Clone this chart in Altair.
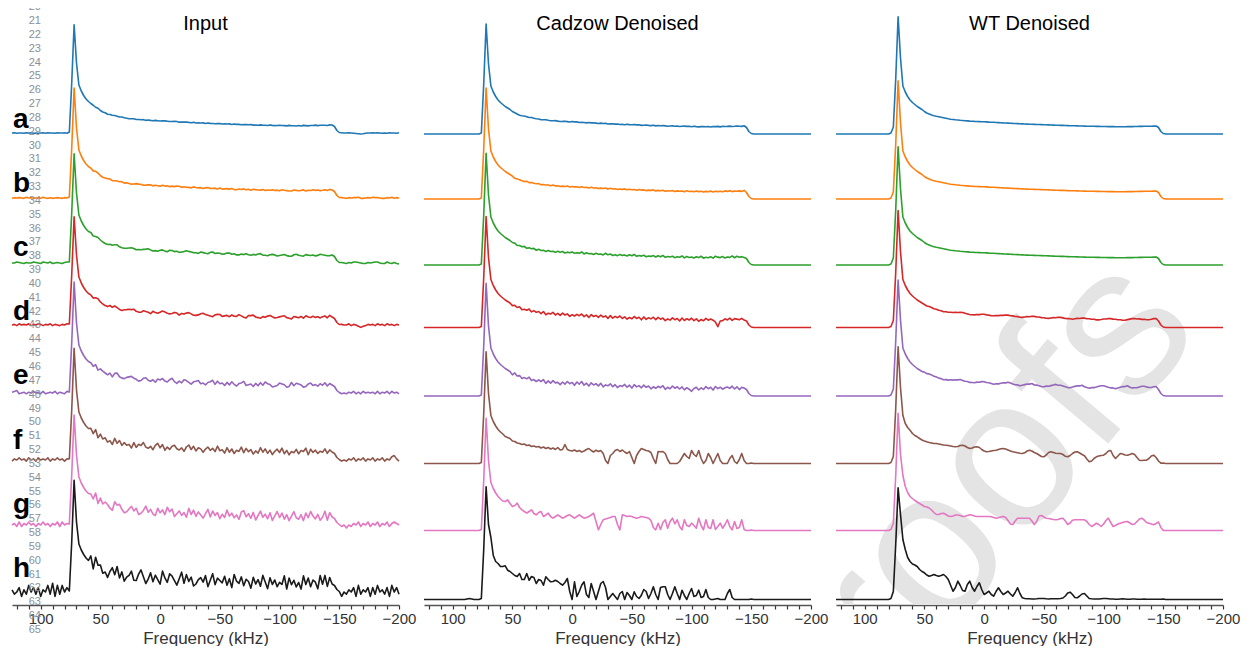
import altair as alt
import pandas as pd

FONT = "Liberation Sans"

# ---------------- data ----------------
FREQ = list(range(124, -201, -2))          # kHz sampling grid (163 points)
N = len(FREQ)
LETTERS = ["a", "b", "c", "d", "e", "f", "g", "h"]
COLORS = ["#1f77b4", "#ff7f0e", "#2ca02c", "#d62728", "#9467bd",
          "#8c564b", "#e377c2", "#1a1a1a"]
PANELS = ["Input", "Cadzow Denoised", "WT Denoised"]
TICKS = list(range(-200, 121, 10))

BASE = ([0] * 24 +
        [1, 50, 108, 70, 48, 42, 37.5, 34, 31.5, 29.5, 27.5, 26, 24.5,
         22.5, 21, 20, 19, 18.3, 17.7, 17.2, 16.7, 16.2, 15.7, 15.2, 14.8, 14.5,
         14.2, 14, 13.7, 13.5, 13.3, 13.1, 12.9, 12.8, 12.6, 12.5, 12.4, 12.3, 12.2,
         12.1, 11.9, 11.8, 11.7, 11.5, 11.4, 11.3, 11.1, 11, 10.9, 10.8, 10.6, 10.5,
         10.4, 10.2, 10.1, 10,
         9.9, 9.8, 9.7, 9.6, 9.5, 9.5, 9.4, 9.3, 9.2, 9.1, 9, 8.9, 8.8, 8.7, 8.6,
         8.6, 8.5, 8.4, 8.3, 8.3, 8.2, 8.1, 8, 8, 7.9, 7.8, 7.8, 7.7,
         7.7, 7.6, 7.6, 7.5, 7.5, 7.5, 7.4, 7.4, 7.4, 7.3, 7.3, 7.3, 7.3, 7.3,
         7.4, 7.4, 7.4, 7.5, 7.5, 7.6, 7.6, 7.7, 7.7, 7.8, 7.8, 7.9, 8,
         6.5, 2.5, 0.5] +
        [0] * 25)

# residual noise strings: digit d -> (d - 4) * unit, starting at the given kHz
IN_A = "4534435453 4345354435 4453444444 4444535445 3545435443 4534453543 5434543455 3445435344 5354434534 4535443454 5343544354 3454435443 5354344534 4435444454 4543210134 4545434354 435"
IN_B = "3545436453 4536435345 4354444444 4445365434 5634546354 3465534563 5436453546 6354436545 3564453634 5463354645 3654463546 4536543365 4563546453 4536444454 3545563345 4655433546 354"
IN_C = "4465435446 5436546345 4356444444 4446356543 3546743345 6534456753 4356436645 3457654436 5436745534 6645335464 3546744356 5345643367 5436545346 5433444454 3546654335 4566433643 532"
IN_D = "4536454635 4653546354 3546444444 4445367543 3647532456 6743365426 4357643465 2546753346 7543256634 5364475326 6743254675 3456743265 4637546453 5637444454 4635420235 4536453645 354"
IN_E = "5673453546 4536345463 5436444444 4445372654 3627843356 7542367435 2657436842 5376425673 4256837452 6374256834 5263748652 3476523847 6523674536 4736444434 3546353645 4536354636 453"
IN_F = "3546453645 3645463546 4535444444 4446382746 3528473645 2736584352 6847253674 3526847365 2574638452 7362548374 6253847362 5748362547 3658274635 4736444434 3546354635 4635463547 853"
IN_G = "4536354645 3546453546 3645444444 4445382746 5328674235 7462358463 2746385724 6352847364 2583746253 8463527846 3725846372 5847362584 3627485362 4827444434 2435463546 3546354635 654"
IN_H = "5346253746 3625473827 3746444444 4447285634 2574836245 7336852473 6428537642 5837462356 4725836547 3628547365 2746385274 6354827463 5284736528 4837444424 3546273546 2637453627 463"

CZ_A = "4543454354 4534543454 3454354534 4354543545 3454534354 4545345435 3545434545 3454535434 5453545354 45345435"
CZ_B = "5345436354 4635453645 3546354536 4536453546 3645354635 4536453546 3546354635 4536453645 3546354536 46354536"
CZ_C = "4635463546 3645364536 4635463547 3645364537 4635364536 4735463546 3647354635 4736453647 3546375463 54736453"
CZ_D = "3647354736 4637254736 3746253647 3627463746 2736473625 3746273647 3746253746 2736473625 3746463736 47365463"
CZ_E = "2746354735 3647263745 2637462748 3627463725 4736254736 2746374625 3647253746 3625304625 3746274635 64736254"

WT_D = "5566554434 4556677654 4455665544 5566776655 4456677665 5445667765 5545667766 5544566776 6554456776 65544566"
WT_E = "6677665545 5667787665 5566776654 5567787655 4567786654 4556787765 4456778654 5567887655 4567786555 67765566"

# absolute heights (start kHz, step -2 kHz)
CZ_F_PLATEAU = [27, 26, 25, 22.5, 22, 20.5, 20, 19, 19.5, 18,
                18.5, 17, 17.5, 16.5, 17, 15.5, 16.5, 15, 16, 14.5,
                15.5, 14, 16, 13.5, 14, 19, 14, 13, 12.5, 13.5,
                12, 13, 11.5, 12.5, 14, 15, 13, 11.5, 13.3, 12,
                13, 10, 3, 0, 8, 10, 13, 14, 12, 13.5,
                11.5, 10, 12, 6, 0, 8, 12, 15, 14, 13,
                12.5, 11, 5, 0, 12, 11.7, 12, 10, 4, 0,
                0, 0, 0, 2, 6, 10, 7, 5, 13, 9,
                7, 13, 5, 0, 3, 10, 6, 0, 5, 10,
                3, 0, 0, 0, 5, 8, 2, 0, 4, 10,
                3, 0, 0]
CZ_G_PLATEAU = [29, 30.7, 27, 24, 25, 27.3, 23, 20.7, 19, 17.3,
                19, 20.7, 17, 15.7, 18, 19, 14, 15.5, 17.3, 14,
                12.3, 14, 15.7, 14, 12.3, 13.5, 15, 15.7, 14, 12.3,
                14, 15.7, 14, 12.3, 13, 14, 15.5, 17.3, 9, 0.7,
                6, 10.7, 11.5, 12.3, 13, 14, 14, 6, 0.7, 15.7,
                15, 14, 14.5, 14, 13, 12.3, 13, 14, 13.5, 13,
                12.3, 10, 3, 0.7, 7.3, 1, 8, 10.7, 2.3, 9,
                12.3, 6.7, 10.7, 4, 0.7, 10.7, 5, 4, 7.3, 5,
                2.3, 12.3, 5, 0.7, 10.7, 3, 2, 10.7, 1, 4,
                7.3, 2.3, 6, 10.7, 4, 0.7, 9, 2, 3, 10.7,
                1, 0, 0]
CZ_H_PLATEAU = [38, 36, 33, 33, 33.7, 29.3, 28, 26, 24, 23,
                26, 20, 20, 26, 19.3, 23, 22, 16, 20, 19,
                14.3, 22.7, 20, 17.7, 18, 19.3, 18, 16, 14.3, 17,
                21, 8, 0, 17.7, 3, 8, 14.3, 17.7, 5, 2,
                16, 8, 0, 8, 16, 18, 12, 0, 3, 6,
                3, 0, 6, 8, 0, 7, 4, 0, 7.7, 3,
                1, 4.3, 10, 8, 1, 6, 12.7, 5, 0, 12,
                12.7, 12.7, 5, 0, 6, 12.7, 6, 0, 9.3, 4,
                0, 6, 11, 3, 4, 9.3, 2, 3, 10, 2,
                0, 0, 0.5, 1, 0, 0, 0, 6, 10, 2,
                0, 0, 0, 0, 0, 0, 0]
WT_F_PLATEAU = [48, 40, 36, 33.3, 30, 28, 26.7, 25, 23.5, 22.5,
                21.7, 21, 20.5, 20, 20, 19.5, 19, 18.5, 18.3, 18,
                17.5, 17, 16.7, 17, 18, 18.3, 17.5, 16, 15, 15.5,
                16.5, 16.7, 16, 14, 12.5, 11.7, 12, 12.5, 13, 13.3,
                14, 14.7, 15, 14.5, 13.5, 12.5, 11.7, 11.2, 10.7, 10.2,
                10, 10.7, 12.5, 13.3, 12.5, 11, 10, 8.5, 7, 6.7,
                8.5, 11, 11.7, 11, 10.3, 10, 10, 9, 7.2, 6.7,
                8, 10, 11.5, 11.7, 10.5, 9, 7.8, 4.5, 1.7, 2.5,
                5, 6.7, 7.5, 8, 8.3, 10, 12.5, 13, 8, 5,
                7.5, 10, 9.5, 8.5, 8.3, 9, 10, 9, 6, 3.3,
                3, 3.2, 3.3, 5, 7.5, 8.3, 6, 2.5, 0.3]
WT_G_PLATEAU = [55, 44, 38, 34, 32, 30, 28.5, 27, 25.5, 24,
                23.5, 22.5, 20.5, 18, 16, 16, 17, 17.3, 16, 14.5,
                14, 14.5, 15.5, 15.5, 15, 14, 14.2, 15, 15.7, 15.3,
                14.5, 14, 14, 14, 14, 14, 14, 13.7, 13, 12.3,
                12.7, 13.5, 14, 13, 10, 6.5, 6, 9.5, 12.3, 12.3,
                12.3, 12.3, 12.3, 12.3, 9.5, 6, 9, 14.5, 15, 13.5,
                12.3, 12, 11.5, 11, 10.7, 11, 12, 12.3, 9.5, 6,
                7.5, 10.3, 10.7, 10.7, 10.7, 10.7, 10.7, 9, 6, 4,
                5.5, 7.3, 6, 4, 6.5, 10, 12.3, 8, 4, 5,
                6.5, 7.3, 8, 8.7, 9, 7.5, 6, 6.5, 9, 11.5,
                12.3, 10.5, 8, 7.3, 6.5, 5.7, 7, 8.5, 3, 0]
WT_H_MAIN = [1, 8, 55, 111.7, 85, 60, 50, 42, 38, 35.5,
             34.5, 33, 30, 28, 26.7, 24.5, 23.3, 24, 25, 24,
             23.3, 24, 25, 23, 20, 14, 8.3, 12, 18.3, 14,
             9, 8.3, 15, 18.3, 12, 8.3, 13, 16.7, 10, 5,
             6.5, 8.3, 5, 3.3, 8, 11.7, 8, 5, 6.5, 8.3,
             5.5, 3.3, 7, 11.7, 6, 1.7, 1, 0.7, 0.7, 0.5,
             0.5, 0.7, 1, 1, 1, 0.7, 0.5, 0.7, 0.8, 0.7,
             0.7, 1, 1.5, 3.5, 6.5, 7.3, 5, 2, 1.7, 3.5,
             5.5, 6, 3.5, 1, 0.7, 0.5, 0.5, 0.5, 0.8, 1]
WT_H_TAIL = [1, 0.8, 0.5, 0.5, 0.3, 0.3, 0.5, 0.7, 0.5, 0.3, 0.3, 0.5,
             0.5, 0.3, 0.3, 0.3, 0.5, 0.3, 0.3, 0.2, 0.2, 0.3, 0.3, 0.2]

SPECS = {
    "Input": [
        {"noise": (124, 0.25, IN_A), "set": {72: [108.3]}},
        {"noise": (124, 0.35, IN_B), "set": {72: [110]}},
        {"noise": (124, 0.5, IN_C), "set": {72: [109.3]}},
        {"noise": (124, 0.6, IN_D), "set": {72: [108.3]}},
        {"noise": (124, 0.8, IN_E), "set": {72: [111]}},
        {"noise": (124, 1.1, IN_F), "set": {72: [111.7]}},
        {"noise": (124, 1.5, IN_G), "set": {72: [110]}},
        {"noise": (124, 2.2, IN_H), "set": {72: [111.7]}},
    ],
    "Cadzow Denoised": [
        {"noise": (50, 0.25, CZ_A), "set": {72: [110]}},
        {"noise": (50, 0.3, CZ_B), "set": {72: [111]}},
        {"noise": (50, 0.45, CZ_C), "set": {72: [111.7]}},
        {"noise": (50, 0.6, CZ_D), "set": {72: [111], -120: [5.4, 0.8, 6.5]}},
        {"noise": (50, 0.7, CZ_E), "set": {72: [112.7]}},
        {"set": {72: [111.7], 56: CZ_F_PLATEAU}},
        {"set": {72: [112.3], 56: CZ_G_PLATEAU}},
        {"set": {88: [0.5, 1, 0.5], 72: [112.7, 75, 62, 44], 64: CZ_H_PLATEAU}},
    ],
    "WT Denoised": [
        {"set": {78: [1, 7, 55, 117.3, 76]}},
        {"set": {78: [1, 7, 55, 118.3, 76]}},
        {"set": {78: [1, 7, 55, 118.3, 76]}},
        {"noise": (50, 0.5, WT_D), "set": {78: [1, 7, 55, 117, 76]}},
        {"noise": (50, 0.7, WT_E), "set": {78: [1, 7, 55, 116, 76]}},
        {"set": {78: [1, 7, 55, 116.7, 76], 68: WT_F_PLATEAU}},
        {"set": {78: [1, 7, 55, 117.3, 76], 68: WT_G_PLATEAU}},
        {"set": {78: WT_H_MAIN, -102: WT_H_TAIL}},
    ],
}

# vertical offsets of the stacked spectra
OFFSETS = {
    "Input": [472, 407, 342, 280, 212, 145, 80, 13],
    "Cadzow Denoised": [471, 406, 340, 277.5, 209, 141.5, 74.5, 5.5],
    "WT Denoised": [471, 406, 340, 277.5, 209, 141.5, 74.5, 5.5],
}


def idx(f):
    return (124 - f) // 2


def build(spec):
    v = [float(BASE[i]) if i < len(BASE) else 0.0 for i in range(N)]
    if "noise" in spec:
        start, unit, s = spec["noise"]
        i0 = idx(start)
        for j, c in enumerate(s.replace(" ", "")):
            if 0 <= i0 + j < N:
                v[i0 + j] += (int(c) - 4) * unit
    for start, seq in spec.get("set", {}).items():
        i0 = idx(start)
        for j, val in enumerate(seq):
            if 0 <= i0 + j < N:
                v[i0 + j] = float(val)
    return v


# ---------------- layout ----------------
W, H = 387, 597
GAP = 25
XSCALE = alt.Scale(domain=[-200, 124], reverse=True, nice=False, zero=False)
YSCALE = alt.Scale(domain=[0, H], nice=False, zero=False)


def xaxis():
    return alt.Axis(values=TICKS, labelExpr="datum.value % 50 === 0 ? datum.label : ''",
                    title="Frequency (kHz)", grid=False, tickSize=4, tickWidth=1.2,
                    tickColor="#333333", domainColor="#555555", domainWidth=1.5,
                    labelFontSize=15, labelColor="#333333", labelFont=FONT,
                    labelPadding=2, labelFlush=False, labelOverlap=False,
                    titleFont=FONT, titleFontSize=17, titleFontWeight="normal",
                    titleColor="#333333", titlePadding=4)


def panel(name, k):
    rows = []
    for t, (letter, spec) in enumerate(zip(LETTERS, SPECS[name])):
        vals = build(spec)
        off = OFFSETS[name][t]
        for f, v in zip(FREQ, vals):
            rows.append({"freq": f, "y": off + v, "trace": letter})
    df = pd.DataFrame(rows)

    layers = []
    if k in (1, 2):
        wm_x = 530 if k == 1 else 530 - (W + GAP)
        wm = alt.Chart(pd.DataFrame({"w": ["Proofs"]})).mark_text(
            angle=310, fontSize=215, font=FONT, color="#e4e4e4", clip=True,
            align="center", baseline="middle"
        ).encode(x=alt.value(wm_x), y=alt.value(518), text="w:N")
        layers.append(wm)

    lines = alt.Chart(df).mark_line(strokeWidth=1.6, strokeJoin="round").encode(
        x=alt.X("freq:Q", scale=XSCALE, axis=xaxis()),
        y=alt.Y("y:Q", scale=YSCALE, axis=None),
        color=alt.Color("trace:N", scale=alt.Scale(domain=LETTERS, range=COLORS), legend=None),
    )
    layers.append(lines)

    title = alt.Chart(pd.DataFrame({"t": [name]})).mark_text(
        fontSize=20, font=FONT, color="black", align="center", baseline="middle"
    ).encode(x=alt.value(W / 2), y=alt.value(16), text="t:N")
    layers.append(title)

    if k == 0:
        nums = list(range(21, 66))
        ndf = pd.DataFrame({"n": [str(n) for n in nums],
                            "ny": [605 - (21 + (n - 21) * 13.84) for n in nums]})
        layers.append(alt.Chart(ndf).mark_text(
            fontSize=11, font=FONT, color="#8a8f9a", align="right", baseline="middle"
        ).encode(x=alt.value(29), y=alt.Y("ny:Q", scale=YSCALE, axis=None), text="n:N"))
        layers.append(alt.Chart(pd.DataFrame({"n": ["20"]})).mark_text(
            fontSize=11, font=FONT, color="#8a8f9a", align="right", baseline="middle", clip=True
        ).encode(x=alt.value(29), y=alt.value(-1), text="n:N"))
        ldf = pd.DataFrame({"letter": LETTERS,
                            "ly": [605 - (128 + 64.1 * i) for i in range(8)]})
        layers.append(alt.Chart(ldf).mark_text(
            fontSize=28, fontWeight="bold", font=FONT, color="black",
            align="left", baseline="alphabetic"
        ).encode(x=alt.value(1), y=alt.Y("ly:Q", scale=YSCALE, axis=None), text="letter:N"))

    return alt.layer(*layers).properties(width=W, height=H)


chart = alt.hconcat(*[panel(p, k) for k, p in enumerate(PANELS)],
                    spacing=GAP, bounds="flush").properties(
    padding={"left": 3, "top": 0, "right": 0, "bottom": 0}
).configure_view(stroke=None)

chart.save("out.html", embed_options={"renderer": "svg", "actions": False})
